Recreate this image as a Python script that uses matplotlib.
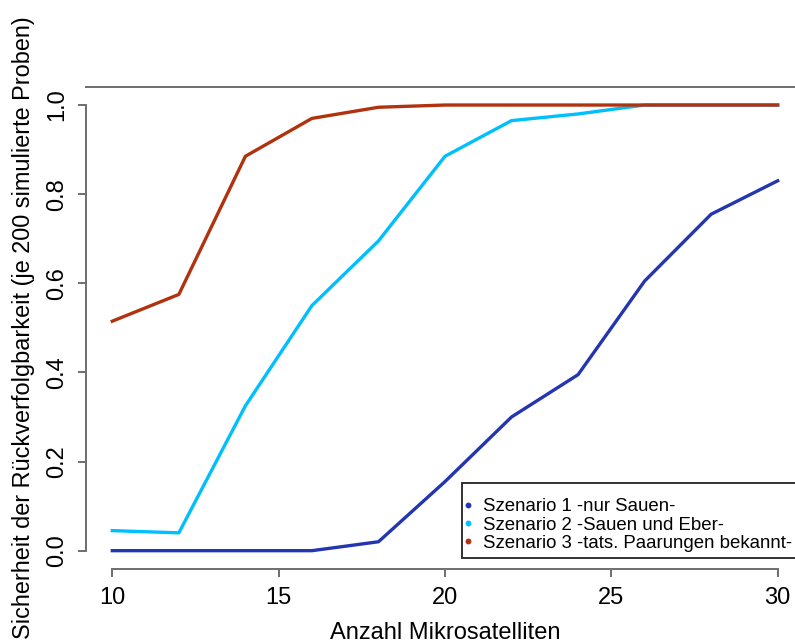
import numpy as np
import matplotlib
matplotlib.use("Agg")
import matplotlib.pyplot as plt
from matplotlib.lines import Line2D
from matplotlib.patches import Rectangle

plt.rcParams['font.family'] = ['Liberation Sans', 'DejaVu Sans']

# Anzahl Mikrosatelliten
marker_n = [10, 12, 14, 16, 18, 20, 22, 24, 26, 28, 30]
# Sicherheit der Rueckverfolgbarkeit je Szenario
szenario1 = [0.0, 0.0, 0.0, 0.0, 0.02, 0.155, 0.30, 0.395, 0.605, 0.755, 0.83]
szenario2 = [0.045, 0.04, 0.325, 0.55, 0.695, 0.885, 0.965, 0.98, 1.0, 1.0, 1.0]
szenario3 = [0.515, 0.575, 0.885, 0.97, 0.995, 1.0, 1.0, 1.0, 1.0, 1.0, 1.0]

labels = ["Szenario 1 -nur Sauen-",
          "Szenario 2 -Sauen und Eber-",
          "Szenario 3 -tats. Paarungen bekannt-"]
colors = ["#2336B0", "#00BFFF", "#B0320F"]

W, H = 795, 643
fig = plt.figure(figsize=(W / 100, H / 100), dpi=100)
# plot region runs past the right edge of the picture (cropped R plot)
x0, x1 = 85.7, 804.3
y0, y1 = 568.5, 87.2
ax = fig.add_axes([x0 / W, 1 - y0 / H, (x1 - x0) / W, (y0 - y1) / H])

for vals, col in zip([szenario1, szenario2, szenario3], colors):
    ax.plot(marker_n, vals, color=col, lw=2.4, solid_joinstyle="round")

ax.set_xlim(9.2, 30.8)
ax.set_ylim(-0.04, 1.04)

axis_col = "#6e6e6e"
for s in ["left", "bottom", "top", "right"]:
    ax.spines[s].set_color(axis_col)
    ax.spines[s].set_linewidth(1.4)
ax.spines["left"].set_bounds(0, 1)
ax.spines["bottom"].set_bounds(10, 30)

ax.set_xticks([10, 15, 20, 25, 30])
ax.set_yticks([0.0, 0.2, 0.4, 0.6, 0.8, 1.0])
ax.set_yticklabels(["0.0", "0.2", "0.4", "0.6", "0.8", "1.0"], rotation=90, va="center")
ax.tick_params(axis="both", direction="out", length=6, width=1.4, color=axis_col,
               labelsize=17, labelcolor="black")
ax.tick_params(axis="x", pad=7)
ax.tick_params(axis="y", pad=6.5)

ax.set_xlabel("Anzahl Mikrosatelliten", fontsize=17, labelpad=10)
ax.set_ylabel("Sicherheit der Rückverfolgbarkeit (je 200 simulierte Proben)",
              fontsize=16.9, labelpad=8.5)

# legend frame (runs off the right edge like the plot box)
frame = Rectangle((462 / W, 1 - 558 / H), 345 / W, 75 / H, transform=fig.transFigure,
                  facecolor="white", edgecolor="#222222", lw=1.3, zorder=2)
fig.patches.append(frame)

handles = [Line2D([], [], ls="none", marker="o", ms=3.2, color=c) for c in colors]
leg = fig.legend(handles, labels, loc="center left",
                 bbox_to_anchor=(465 / W, 1 - 525 / H), borderaxespad=0,
                 borderpad=0, fontsize=13.4, frameon=False,
                 handlelength=0.3, handletextpad=0.65, labelspacing=0.06)

fig.savefig("out.png", dpi=100)
